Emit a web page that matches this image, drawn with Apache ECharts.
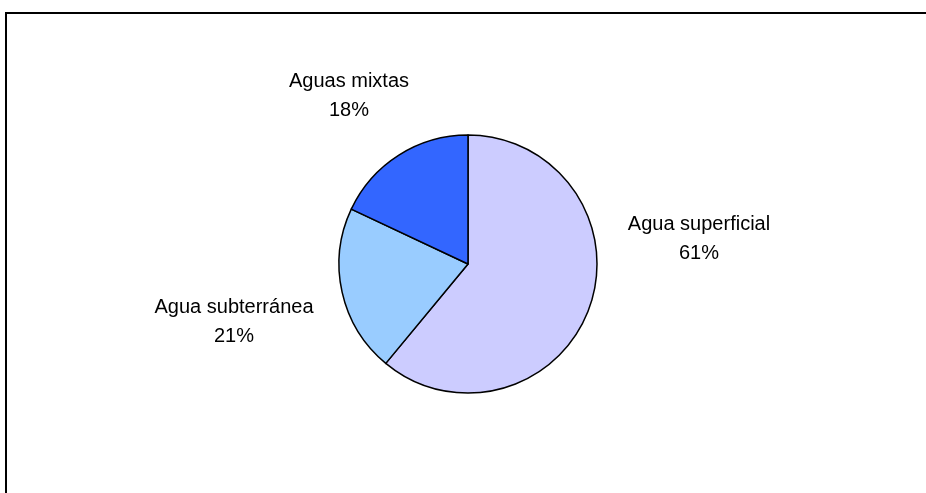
<!DOCTYPE html>
<html>
<head>
<meta charset="utf-8">
<script src="https://cdn.jsdelivr.net/npm/echarts@6/dist/echarts.min.js"></script>
<style>
  html, body { margin: 0; padding: 0; background: #fff; }
  #chart { width: 926px; height: 493px; }
</style>
</head>
<body>
<div id="chart"></div>
<script>
// Fuentes de abastecimiento de agua (porcentaje)
const categories = ['Agua superficial', 'Agua subterránea', 'Aguas mixtas'];
const values = [61, 21, 18];
const sliceColors = ['#CCCCFF', '#99CCFF', '#3366FF'];

// Label anchor points (centre of each two-line label block)
const labelAnchors = [[699, 239], [234, 322], [349, 96]];

const chart = echarts.init(document.getElementById('chart'), null, { renderer: 'canvas' });

chart.setOption({
  backgroundColor: '#ffffff',
  animation: false,
  graphic: [{
    type: 'rect',
    shape: { x: 6, y: 13, width: 1200, height: 1000 },
    style: { fill: 'none', stroke: '#000', lineWidth: 2 },
    silent: true
  }],
  series: [{
    type: 'pie',
    center: [468, 264],
    radius: 129,
    startAngle: 90,
    clockwise: true,
    data: categories.map((name, i) => ({
      name: name,
      value: values[i],
      itemStyle: { color: sliceColors[i] }
    })),
    itemStyle: { borderColor: '#000', borderWidth: 1.5 },
    emphasis: { disabled: true },
    label: {
      show: true,
      position: 'outside',
      formatter: p => p.name + '\n' + p.value + '%',
      fontFamily: '"Liberation Sans", Arial, sans-serif',
      fontSize: 20,
      lineHeight: 29,
      color: '#000',
      align: 'center'
    },
    labelLine: { show: false },
    labelLayout: function (params) {
      const a = labelAnchors[params.dataIndex];
      return { x: a[0], y: a[1], align: 'center', verticalAlign: 'middle' };
    }
  }]
});
</script>
</body>
</html>
